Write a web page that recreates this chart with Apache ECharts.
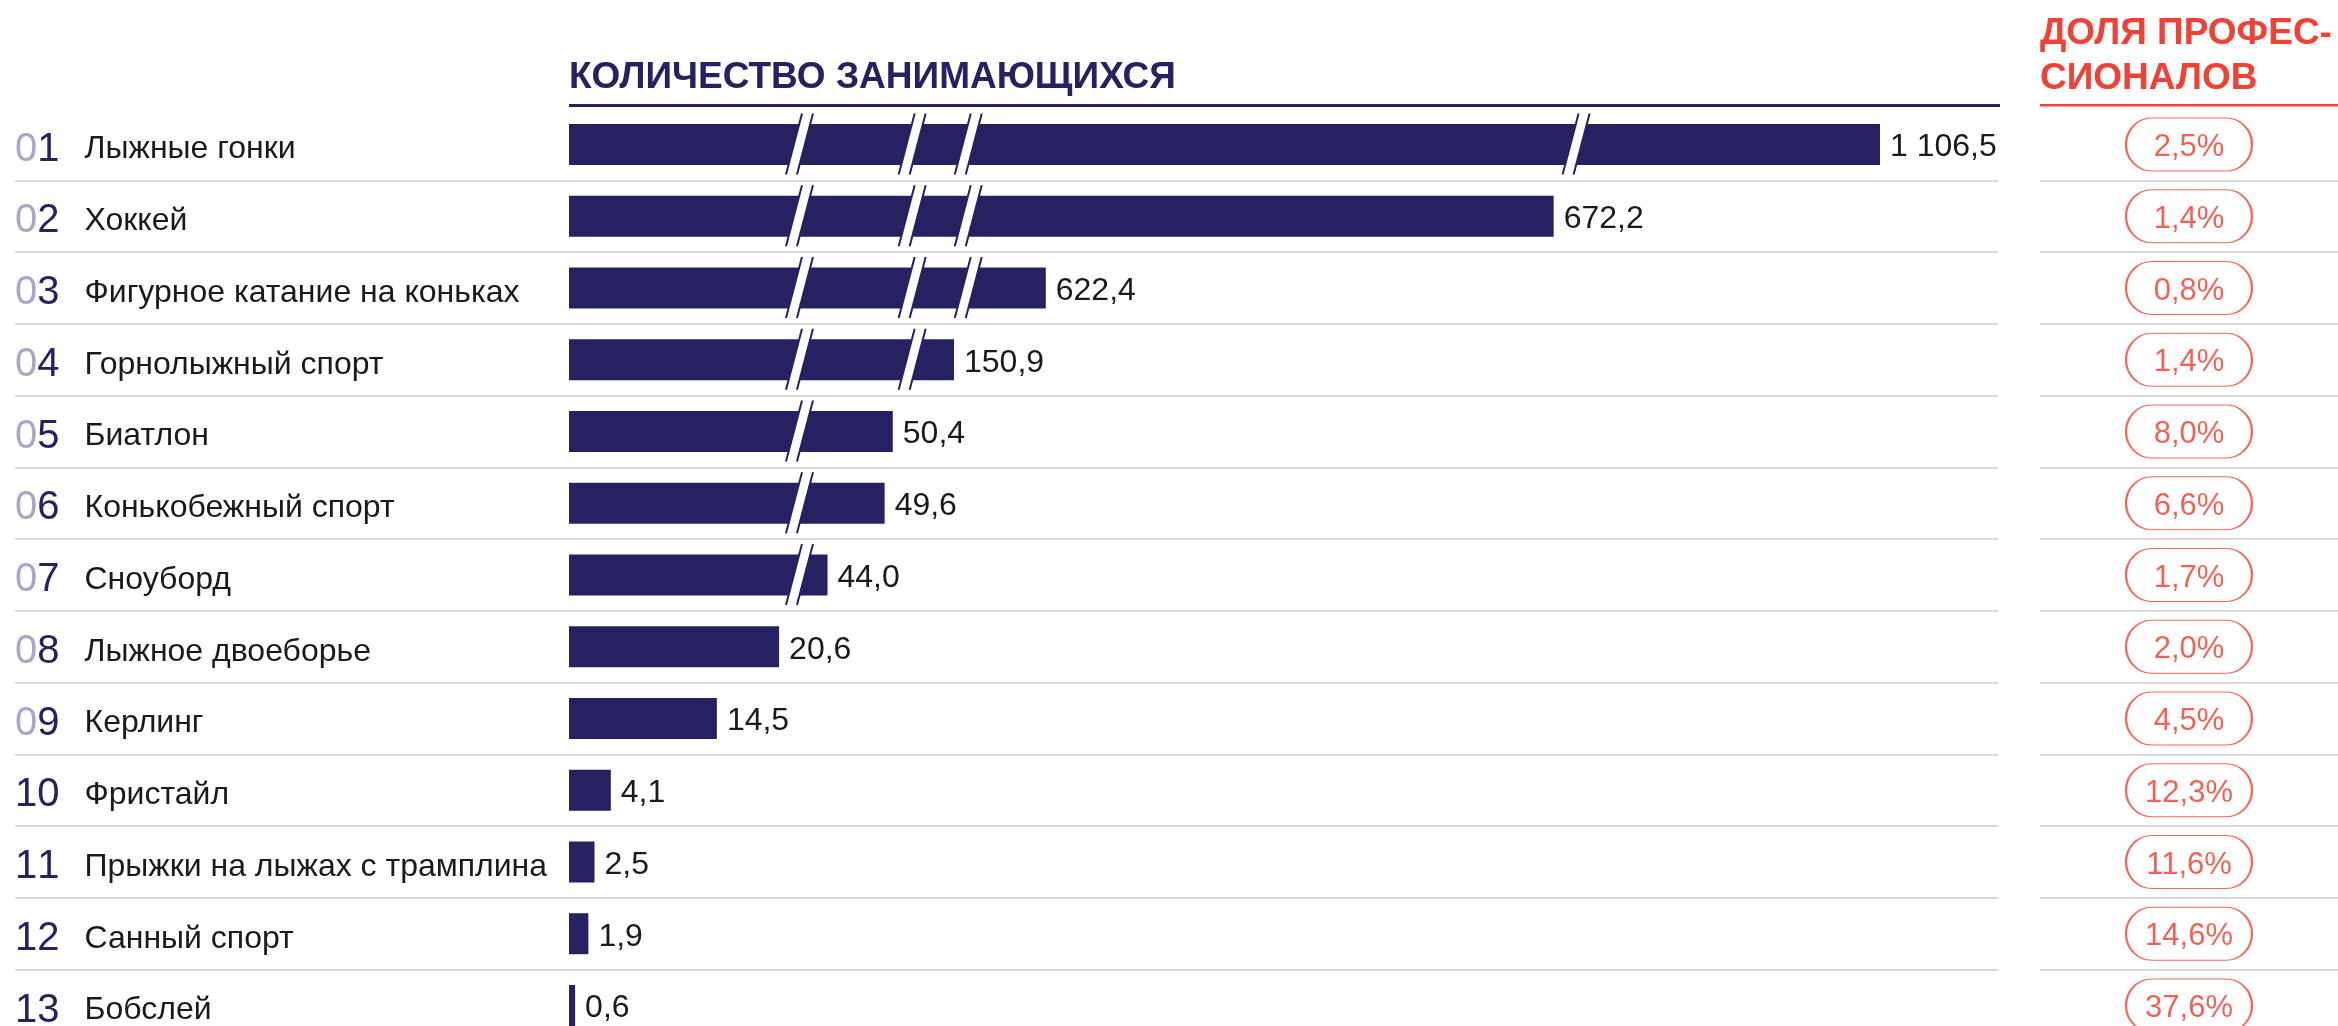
<!DOCTYPE html>
<html>
<head>
<meta charset="utf-8">
<script src="https://cdn.jsdelivr.net/npm/echarts@6/dist/echarts.min.js"></script>
<style>
  html, body { margin: 0; padding: 0; background: #fff; }
  #chart { width: 2338px; height: 1026px; }
</style>
</head>
<body>
<div id="chart"></div>
<script>
// данные
const ranks = ['01', '02', '03', '04', '05', '06', '07', '08', '09', '10', '11', '12', '13'];
const sports = [
  'Лыжные гонки', 'Хоккей', 'Фигурное катание на коньках', 'Горнолыжный спорт',
  'Биатлон', 'Конькобежный спорт', 'Сноуборд', 'Лыжное двоеборье', 'Керлинг',
  'Фристайл', 'Прыжки на лыжах с трамплина', 'Санный спорт', 'Бобслей'
];
const participants = [1106.5, 672.2, 622.4, 150.9, 50.4, 49.6, 44.0, 20.6, 14.5, 4.1, 2.5, 1.9, 0.6];
const proShare = [2.5, 1.4, 0.8, 1.4, 8.0, 6.6, 1.7, 2.0, 4.5, 12.3, 11.6, 14.6, 37.6];
// разрывы шкалы (начало, конец)
const axisBreaks = [[22.6, 41.25], [52.3, 146.8], [152.3, 614.8], [674.4, 1076.7]];

const NAVY = '#262262';
const RED = '#ef4136';
const FONT = "'Liberation Sans', Arial, sans-serif";

const gridTop = 108.6;
const gridHeight = 932.75;

// форма «таблетки» для доли профессионалов
const PILL = 'path://M26,0 L101,0 A26,26 0 0 1 101,52 L26,52 A26,26 0 0 1 26,0 Z';

function fmtNum(v) {
  let s = v.toFixed(1).split('.');
  let int = s[0].replace(/\B(?=(\d{3})+(?!\d))/g, ' ');
  return int + ',' + s[1];
}

// метки разрывов на столбцах, которые их пересекают
let breakMarks = [];
for (let i = 0; i < participants.length; i++) {
  axisBreaks.forEach(b => {
    if (participants[i] > b[1]) breakMarks.push([(b[0] + b[1]) / 2, i]);
  });
}

let myChart = echarts.init(document.getElementById('chart'));

let option = {
  backgroundColor: '#fff',
  animation: false,
  title: [
    {
      text: 'КОЛИЧЕСТВО ЗАНИМАЮЩИХСЯ',
      left: 569, top: 55, padding: 0,
      textStyle: { fontSize: 37, fontWeight: 'bold', color: NAVY, fontFamily: FONT, lineHeight: 46 }
    },
    {
      text: 'ДОЛЯ ПРОФЕС-\nСИОНАЛОВ',
      left: 2040, top: 11, padding: 0,
      textStyle: { fontSize: 37, fontWeight: 'bold', color: RED, fontFamily: FONT, lineHeight: 45 }
    }
  ],
  graphic: [
    { type: 'rect', shape: { x: 569, y: 104, width: 1431, height: 3 }, style: { fill: NAVY } },
    { type: 'rect', shape: { x: 2040, y: 104, width: 298, height: 2.5 }, style: { fill: RED } }
  ],
  grid: [
    { left: 569, top: gridTop, width: 1311, height: gridHeight, outerBoundsMode: 'none' },
    { left: 15, top: gridTop, width: 1983, height: gridHeight, outerBoundsMode: 'none' },
    { left: 2040, top: gridTop, width: 298, height: gridHeight, outerBoundsMode: 'none' },
    { left: 15, top: gridTop + 5, width: 540, height: gridHeight, outerBoundsMode: 'none' }
  ],
  xAxis: [
    {
      gridIndex: 0, type: 'value', min: 0, max: 1106.5, show: false,
      breaks: axisBreaks.map(b => ({ start: b[0], end: b[1], gap: 0 })),
      breakArea: { show: false }
    },
    { gridIndex: 1, type: 'value', min: 0, max: 1, show: false },
    { gridIndex: 2, type: 'value', min: -1, max: 1, show: false },
    { gridIndex: 3, type: 'value', min: 0, max: 1, show: false }
  ],
  yAxis: [
    { gridIndex: 0, type: 'category', inverse: true, data: ranks, show: false },
    {
      gridIndex: 1, type: 'category', inverse: true, data: ranks,
      axisLine: { show: false },
      axisTick: { show: false },
      axisLabel: { show: false },
      splitLine: {
        show: true,
        interval: (index) => index > 0,
        lineStyle: { color: '#d9d9d9', width: 2 }
      }
    },
    {
      gridIndex: 2, type: 'category', inverse: true, data: ranks,
      axisLine: { show: false },
      axisTick: { show: false },
      axisLabel: { show: false },
      splitLine: {
        show: true,
        interval: (index) => index > 0,
        lineStyle: { color: '#d9d9d9', width: 2 }
      }
    },
    {
      gridIndex: 3, type: 'category', inverse: true, data: ranks,
      axisLine: { show: false },
      axisTick: { show: false },
      splitLine: { show: false },
      axisLabel: {
        interval: 0,
        align: 'left',
        margin: 0,
        formatter: (val, idx) =>
          '{' + (idx < 9 ? 'lz' : 'dz') + '|' + val[0] + '}{dz|' + val[1] + '}{nm|' + sports[idx] + '}',
        rich: {
          lz: { color: '#a9a7c9', fontSize: 40, fontFamily: FONT, verticalAlign: 'middle' },
          dz: { color: NAVY, fontSize: 40, fontFamily: FONT, verticalAlign: 'middle' },
          nm: { color: '#1a1a1a', fontSize: 32, fontFamily: FONT, verticalAlign: 'middle', padding: [0, 0, 0, 25] }
        }
      }
    }
  ],
  series: [
    {
      type: 'bar',
      xAxisIndex: 0, yAxisIndex: 0,
      data: participants,
      barWidth: 41,
      itemStyle: { color: NAVY },
      label: {
        show: true,
        position: 'right',
        distance: 10,
        offset: [0, 3],
        color: '#1a1a1a',
        fontSize: 32,
        fontFamily: FONT,
        formatter: p => fmtNum(p.value)
      }
    },
    {
      type: 'custom',
      xAxisIndex: 0, yAxisIndex: 0,
      data: breakMarks,
      z: 5,
      clip: false,
      silent: true,
      renderItem: (params, api) => {
        let c = api.coord([api.value(0), api.value(1)]);
        let cx = c[0], cy = c[1];
        let top = cy - 31, bot = cy + 30, s = 8, g = 5.5;
        return {
          type: 'group',
          children: [
            {
              type: 'polygon',
              shape: { points: [[cx - g + s, top], [cx + g + s, top], [cx + g - s, bot], [cx - g - s, bot]] },
              style: { fill: '#fff' }
            },
            {
              type: 'line',
              shape: { x1: cx - g + s, y1: top, x2: cx - g - s, y2: bot },
              style: { stroke: NAVY, lineWidth: 2 }
            },
            {
              type: 'line',
              shape: { x1: cx + g + s, y1: top, x2: cx + g - s, y2: bot },
              style: { stroke: NAVY, lineWidth: 2 }
            }
          ]
        };
      }
    },
    {
      type: 'scatter',
      xAxisIndex: 2, yAxisIndex: 2,
      data: proShare.map((v, i) => [0, i, v]),
      encode: { x: 0, y: 1 },
      symbol: PILL,
      symbolSize: [126, 53],
      itemStyle: { color: '#fff', borderColor: RED, borderWidth: 1.5 },
      label: {
        show: true,
        position: 'inside',
        offset: [0, 3],
        formatter: p => fmtNum(p.value[2]) + '%',
        color: '#ec3b2c',
        fontSize: 31,
        fontFamily: FONT
      }
    }
  ]
};

myChart.setOption(option);
</script>
</body>
</html>
